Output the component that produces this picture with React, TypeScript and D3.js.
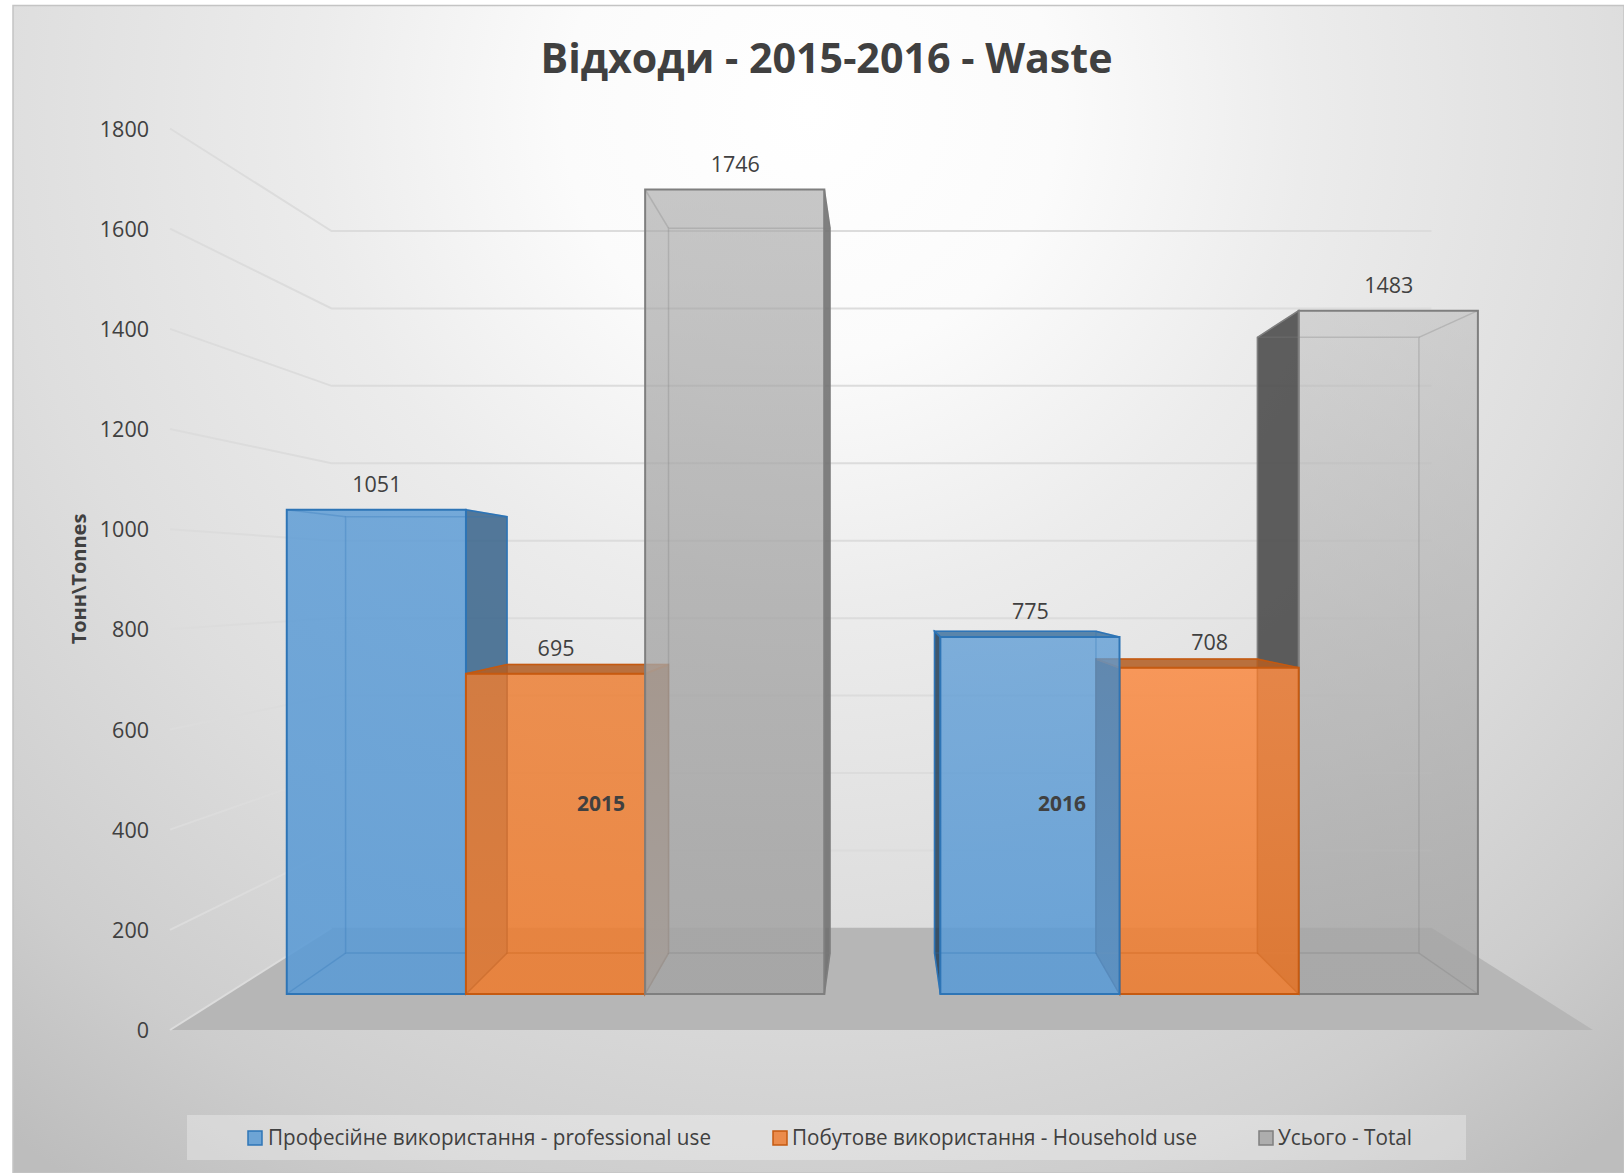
import * as d3 from "d3";

const W = 1624;
const H = 1173;

const years = ["2015", "2016"];
const seriesNames = [
  "Професійне використання - professional use",
  "Побутове використання - Household use",
  "Усього - Total",
];
const professional = [1051, 775];
const household = [695, 708];
const total = [1746, 1483];
const allSeries = [professional, household, total];
const yTicks = [0, 200, 400, 600, 800, 1000, 1200, 1400, 1600, 1800];

const seriesColors = ["#5b9bd5", "#ed7d31", "#a5a5a5"];
const edgeColors = ["#2e75b6", "#c55a11", "#7f7f7f"];

// front plane of the 3D box, everything else is projected from it
const plotLeft = 170;
const plotRight = 1593;
const vanish = { x: 881.5, y: 580 };
const sBack = 0.773; // back wall
const sBarFront = 0.92;
const sBarBack = 0.829;

const yScale = d3.scaleLinear().domain([0, 1800]).range([1030, 128.5]);
const xYear = d3
  .scaleBand()
  .domain(years)
  .range([plotLeft + 2, plotRight - 0.2])
  .paddingInner(0.1775)
  .paddingOuter(0.08875);
const xSeries = d3
  .scaleBand()
  .domain(d3.range(3).map(String))
  .range([0, xYear.bandwidth()]);

const project = (x: number, y: number, s: number): [number, number] => [
  vanish.x + s * (x - vanish.x),
  vanish.y + s * (y - vanish.y),
];
const poly = d3.line().curve(d3.curveLinearClosed);

const bottom = yScale(0);

function Bar({ si, ci }: { si: number; ci: number }) {
  const v = allSeries[si][ci];
  const x0 = xYear(years[ci])! + xSeries(String(si))!;
  const x1 = x0 + xSeries.bandwidth();
  const yt = yScale(v);
  const base = seriesColors[si];
  const edge = edgeColors[si];

  const f = (x: number, y: number) => project(x, y, sBarFront);
  const b = (x: number, y: number) => project(x, y, sBarBack);

  const backFace = [b(x0, yt), b(x1, yt), b(x1, bottom), b(x0, bottom)];
  const leftFace = [f(x0, yt), b(x0, yt), b(x0, bottom), f(x0, bottom)];
  const rightFace = [f(x1, yt), b(x1, yt), b(x1, bottom), f(x1, bottom)];
  const topFace = [f(x0, yt), f(x1, yt), b(x1, yt), b(x0, yt)];
  const floorFace = [f(x0, bottom), f(x1, bottom), b(x1, bottom), b(x0, bottom)];
  const frontFace = [f(x0, yt), f(x1, yt), f(x1, bottom), f(x0, bottom)];

  const rightOuter = x1 < vanish.x;
  const leftOuter = x0 > vanish.x;
  const topOuter = yt > vanish.y;

  const inner = {
    fill: base,
    fillOpacity: si === 2 && ci === 1 ? 0.06 : 0.15,
    stroke: "none",
  };
  const sideDark = (amount: number) => ({
    fill: d3.color(base)!.darker(amount).formatHex(),
    fillOpacity: 0.85,
    stroke: edge,
    strokeWidth: 1.5,
  });

  const gradId = `front-${si}-${ci}`;
  // the 2016 orange bar is a brighter shade towards its top
  const orange2016 = si === 1 && ci === 1;
  const topColor = orange2016 ? "#fa8c46" : base;
  const topAlpha = orange2016
    ? 0.85
    : si === 2
      ? ci === 0
        ? 0.55
        : 0.3
      : ci === 0
        ? 0.8
        : 0.72;
  const bottomAlpha = si === 2 ? (ci === 0 ? 0.9 : 0.78) : 0.87;

  return (
    <g>
      <defs>
        <linearGradient id={gradId} x1="0" y1="0" x2="0" y2="1">
          <stop offset="0" stopColor={topColor} stopOpacity={topAlpha} />
          <stop offset="1" stopColor={base} stopOpacity={bottomAlpha} />
        </linearGradient>
      </defs>
      <path d={poly(backFace)!} {...inner} />
      <path d={poly(floorFace)!} {...inner} />
      {!topOuter && <path d={poly(topFace)!} {...inner} />}
      {!leftOuter && <path d={poly(leftFace)!} {...inner} />}
      {!rightOuter && <path d={poly(rightFace)!} {...inner} />}
      {leftOuter && <path d={poly(leftFace)!} {...sideDark(2.5)} />}
      {rightOuter && <path d={poly(rightFace)!} {...sideDark(1.2)} />}
      {topOuter && <path d={poly(topFace)!} {...sideDark(0.8)} />}
      <path
        d={poly(frontFace)!}
        fill={`url(#${gradId})`}
        stroke={edge}
        strokeWidth={2}
      />
      {/* back edges show through the front */}
      <path
        d={poly(backFace)!}
        fill="none"
        stroke={edge}
        strokeOpacity={0.3}
        strokeWidth={1.5}
      />
      {[x0, x1].map((x) =>
        [yt, bottom].map((y) => (
          <path
            key={`${x}-${y}`}
            d={d3.line()([f(x, y), b(x, y)])!}
            stroke={edge}
            strokeOpacity={0.3}
            strokeWidth={1.5}
          />
        ))
      )}
    </g>
  );
}

const yearLabelX = [601, 1062];
const legendItems = [
  { swatch: 248, text: 268, length: 443 },
  { swatch: 773, text: 792, length: 405 },
  { swatch: 1259, text: 1278, length: 134 },
];
const bgStops = [
  { offset: 0, color: "#ffffff" },
  { offset: 0.19, color: "#fbfbfb" },
  { offset: 0.38, color: "#ececec" },
  { offset: 0.62, color: "#dedede" },
  { offset: 0.73, color: "#d6d6d6" },
  { offset: 0.85, color: "#cdcdcd" },
  { offset: 1, color: "#bdbdbd" },
];

export default function App() {
  const font = "'Open Sans', sans-serif";
  const textColor = "#404040";
  // 2015 is painted left to right, 2016 right to left
  const barOrder = [
    { ci: 0, order: [0, 1, 2] },
    { ci: 1, order: [2, 1, 0] },
  ];

  return (
    <svg
      width={W}
      height={H}
      viewBox={`0 0 ${W} ${H}`}
      style={{ position: "absolute", left: 0, top: 0, display: "block" }}
      fontFamily={font}
    >
      <defs>
        <radialGradient
          id="bg"
          gradientUnits="userSpaceOnUse"
          cx={810}
          cy={110}
          r={1300}
        >
          {bgStops.map((s) => (
            <stop key={s.offset} offset={s.offset} stopColor={s.color} />
          ))}
        </radialGradient>
      </defs>
      <rect x={0} y={0} width={W} height={H} fill="#ffffff" />
      <rect
        x={13}
        y={5.5}
        width={W - 13}
        height={H - 5.5}
        fill="url(#bg)"
        stroke="#c4c4c4"
        strokeWidth={1.5}
      />

      {/* floor */}
      <path
        d={
          poly([
            project(plotLeft, bottom, 1),
            project(plotRight, bottom, 1),
            project(plotRight, bottom, sBack),
            project(plotLeft, bottom, sBack),
          ])!
        }
        fill="#b6b6b6"
      />

      {/* walls */}
      {yTicks.map((t) => {
        const pts = [
          project(plotLeft, yScale(t), 1),
          project(plotLeft, yScale(t), sBack),
          project(plotRight, yScale(t), sBack),
        ];
        return (
          <path
            key={t}
            d={d3.line()(t === 0 ? pts.slice(0, 2) : pts)!}
            fill="none"
            stroke="#dcdcdc"
            strokeWidth={2}
          />
        );
      })}

      {barOrder.map(({ ci, order }) =>
        order.map((si) => <Bar key={`${si}-${ci}`} si={si} ci={ci} />)
      )}

      {/* value labels */}
      {allSeries.map((vals, si) =>
        vals.map((v, ci) => {
          const x =
            xYear(years[ci])! + xSeries(String(si))! + xSeries.bandwidth() / 2;
          const [px, py] = project(x, yScale(v), sBarFront);
          return (
            <text
              key={`${si}-${ci}`}
              x={px + 0.5}
              y={py - 18}
              textAnchor="middle"
              fontSize={21.5}
              fill={textColor}
            >
              {v}
            </text>
          );
        })
      )}

      {/* y ticks */}
      {yTicks.map((t) => (
        <text
          key={t}
          x={149}
          y={yScale(t) + 8}
          textAnchor="end"
          fontSize={21.5}
          fill={textColor}
        >
          {t}
        </text>
      ))}

      {years.map((y, i) => (
        <text
          key={y}
          x={yearLabelX[i]}
          y={810.5}
          textAnchor="middle"
          fontSize={21}
          fontWeight={700}
          fill={textColor}
        >
          {y}
        </text>
      ))}

      <text
        x={826.5}
        y={73}
        textAnchor="middle"
        fontSize={42}
        fontWeight={700}
        fill={textColor}
        textLength={572}
        lengthAdjust="spacingAndGlyphs"
      >
        Відходи - 2015-2016 - Waste
      </text>

      <text
        transform="translate(86,579) rotate(-90)"
        textAnchor="middle"
        fontSize={20}
        fontWeight={700}
        fill={textColor}
      >
        Тонн\Tonnes
      </text>

      {/* legend */}
      <rect x={187} y={1115} width={1279} height={45} fill="#ffffff" fillOpacity={0.3} />
      {legendItems.map((item, i) => (
        <g key={seriesNames[i]}>
          <rect
            x={item.swatch}
            y={1131}
            width={14}
            height={14}
            fill={seriesColors[i]}
            fillOpacity={0.85}
            stroke={edgeColors[i]}
            strokeWidth={1.5}
          />
          <text
            x={item.text}
            y={1145}
            fontSize={21}
            fill={textColor}
            textLength={item.length}
            lengthAdjust="spacingAndGlyphs"
          >
            {seriesNames[i]}
          </text>
        </g>
      ))}
    </svg>
  );
}
